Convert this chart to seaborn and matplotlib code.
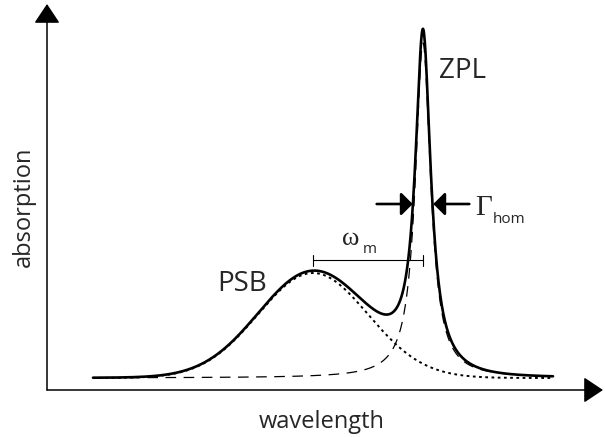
import numpy as np
import pandas as pd
import matplotlib
matplotlib.use("Agg")
import matplotlib.pyplot as plt
from matplotlib.patches import FancyArrowPatch
import seaborn as sns

# Line-shape parameters (arbitrary units along wavelength / absorption)
baseline = 12.0
psb_center = 266.0
psb_sigma = 55.0
psb_height = 105.0
zpl_center = 376.0
zpl_hwhm = 9.3
zpl_height = 335.0
wl_start, wl_stop = 46.0, 506.0

labels = {"psb": "PSB", "zpl": "ZPL", "x": "wavelength", "y": "absorption"}

sns.set_theme(style="white")
plt.rcParams["font.family"] = ["Open Sans", "DejaVu Sans"]

wl = np.linspace(wl_start, wl_stop, 1200)
psb = baseline + psb_height * np.exp(-0.5 * ((wl - psb_center) / psb_sigma) ** 2)
zpl = baseline + zpl_height / (1.0 + ((wl - zpl_center) / zpl_hwhm) ** 2)
total = psb + zpl - baseline
df = pd.DataFrame({"wavelength": wl, "psb": psb, "zpl": zpl, "total": total})

fig = plt.figure(figsize=(6.05, 4.37), dpi=100)
W, H = 605, 437
x0, y0 = 47, 390
ax = fig.add_axes([x0 / W, (H - y0) / H, (603 - x0) / W, (y0 - 4) / H])
ax.set_xlim(0, 556)
ax.set_ylim(0, 386)
ax.set_axis_off()

sns.lineplot(data=df, x="wavelength", y="psb", ax=ax, color="black",
             lw=1.4, linestyle=(0, (1.4, 1.8)))
sns.lineplot(data=df, x="wavelength", y="zpl", ax=ax, color="black",
             lw=0.9, linestyle=(0, (8.5, 6)))
sns.lineplot(data=df, x="wavelength", y="total", ax=ax, color="black",
             lw=1.9, solid_joinstyle="round")

# axes drawn as arrows
for end in [(1, 0), (0, 1)]:
    ax.add_patch(FancyArrowPatch((0, 0), end, transform=ax.transAxes,
                                 arrowstyle="-|>,head_length=12,head_width=8",
                                 mutation_scale=1, color="black", lw=1.1,
                                 shrinkA=0, shrinkB=0, clip_on=False))

# zero-phonon line width markers
half = 186
left_edge = zpl_center - zpl_hwhm - 1
right_edge = zpl_center + zpl_hwhm + 1
ax.add_patch(FancyArrowPatch((left_edge - 36, half), (left_edge, half),
                             arrowstyle="-|>,head_length=7,head_width=7",
                             mutation_scale=1, color="black", lw=1.9,
                             shrinkA=0, shrinkB=0))
ax.add_patch(FancyArrowPatch((right_edge + 36, half), (right_edge, half),
                             arrowstyle="-|>,head_length=7,head_width=7",
                             mutation_scale=1, color="black", lw=1.9,
                             shrinkA=0, shrinkB=0))
ax.text(428, 175, "\u0393", family="Liberation Serif",
        fontsize=21, ha="left", va="baseline")
ax.text(446, 167, "hom", fontsize=11, ha="left", va="baseline")

# phonon sideband to ZPL spacing
br_y = 130
ax.plot([psb_center, zpl_center], [br_y, br_y], color="black", lw=0.8)
for xb in (psb_center, zpl_center):
    ax.plot([xb, xb], [br_y - 5.5, br_y + 5.5], color="black", lw=0.8)
ax.text(295, 145, "\u03c9", family="Liberation Serif", fontsize=19,
        ha="left", va="baseline")
ax.text(316, 137, "m", fontsize=11, ha="left", va="baseline")

ax.text(195, 99, labels["psb"], fontsize=20, ha="center", va="baseline")
ax.text(415, 312, labels["zpl"], fontsize=20, ha="center", va="baseline")

fig.text(322 / W, 1 - 428 / H, labels["x"], fontsize=17, ha="center", va="baseline")
fig.text(24 / W, 1 - 207 / H, labels["y"], fontsize=17, ha="center",
         va="center", rotation=90)

fig.savefig("out.png", dpi=100)
